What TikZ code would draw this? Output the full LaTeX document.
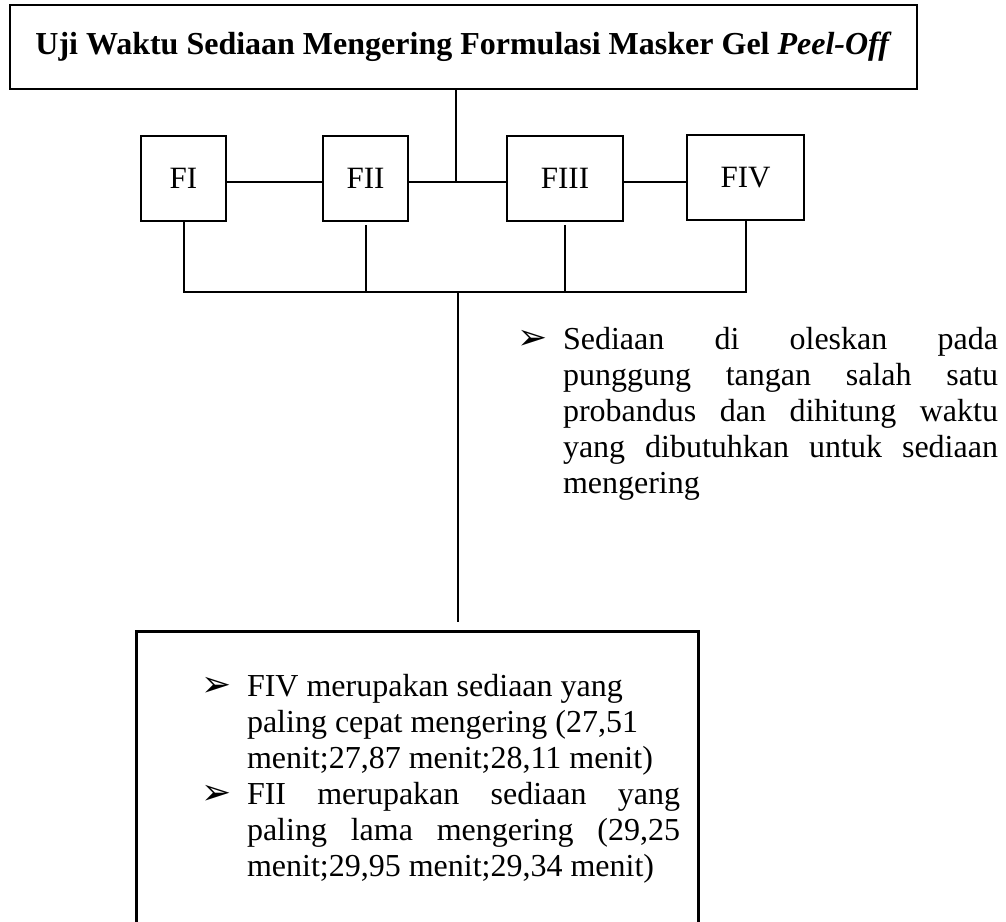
\documentclass[tikz,border=0pt]{standalone}
\usepackage{fontspec}
\setmainfont{Liberation Serif}
\newfontfamily\dingfont{DejaVu Sans}
\usetikzlibrary{positioning}

\newcommand{\arrowbullet}{{\dingfont\fontsize{18}{18}\selectfont\char"27A2}}

\tikzset{
  titlebox/.style={draw, line width=0.75pt, minimum width=453.5pt, minimum height=42pt,
    font=\fontsize{16}{19}\selectfont\bfseries},
  formbox/.style={draw, line width=0.75pt, minimum height=42.5pt, inner sep=0pt,
    font=\fontsize{15.5}{18}\selectfont},
  resultbox/.style={draw, line width=1.3pt, minimum width=281pt, minimum height=160pt, inner sep=0pt},
  notes/.style={inner sep=0pt}
}

\begin{document}
\begin{tikzpicture}[x=0.5pt, y=-0.5pt, line width=1pt,
  every node/.style={font=\fontsize{16}{18}\selectfont}]
  \useasboundingbox (0,0) rectangle (1006,921);

  % judul
  \node[titlebox] (uji) at (463.5,47) {Uji Waktu Sediaan Mengering Formulasi Masker Gel \textit{Peel-Off}};

  % formula
  \node[formbox, minimum width=42.5pt] (f1) at (183.5,178.5) {FI};
  \node[formbox, minimum width=42.5pt] (f2) at (365.5,178.5) {FII};
  \node[formbox, minimum width=58pt] (f3) at (565,178.5) {FIII};
  \node[formbox, minimum width=58.5pt] (f4) at (745.5,177.5) {FIV};

  \coordinate (hub) at (456,182);
  \coordinate (bus) at (458,292);

  \draw (uji.south -| hub) -- (hub);
  \draw (f1.east |- hub) -- (f2.west |- hub);
  \draw (f2.east |- hub) -- (f3.west |- hub);
  \draw (f3.east |- hub) -- (f4.west |- hub);

  \draw (f1.south) |- (f4.south |- bus) -- (f4.south);
  \draw[shorten <=1.5pt] (f2.south) -- (f2.south |- bus);
  \draw[shorten <=1.5pt] (f3.south) -- (f3.south |- bus);

  % cara kerja
  \node[notes, anchor=base west] (cara) at (516,349) {%
    \begin{tabular}[t]{@{}p{23pt}@{}p{217.5pt}@{}}
      \arrowbullet & Sediaan di oleskan pada\linebreak punggung tangan salah satu\linebreak
      probandus dan dihitung waktu\linebreak yang dibutuhkan untuk sediaan\linebreak mengering
    \end{tabular}};

  % hasil
  \node[resultbox, anchor=north west] (hasil) at (135,630) {};
  \draw[shorten >=4pt] (bus) -- (hasil.north -| bus);

  \node[notes, anchor=base west] (kesimpulan) at (200,696) {%
    \begin{tabular}[t]{@{}p{23pt}@{}p{216.5pt}@{}}
      \arrowbullet & FIV merupakan sediaan yang\newline paling cepat mengering (27,51\newline
      menit;27,87 menit;28,11 menit)\\
      \arrowbullet & FII merupakan sediaan yang\linebreak paling lama mengering (29,25\linebreak
      menit;29,95 menit;29,34 menit)
    \end{tabular}};
\end{tikzpicture}
\end{document}
